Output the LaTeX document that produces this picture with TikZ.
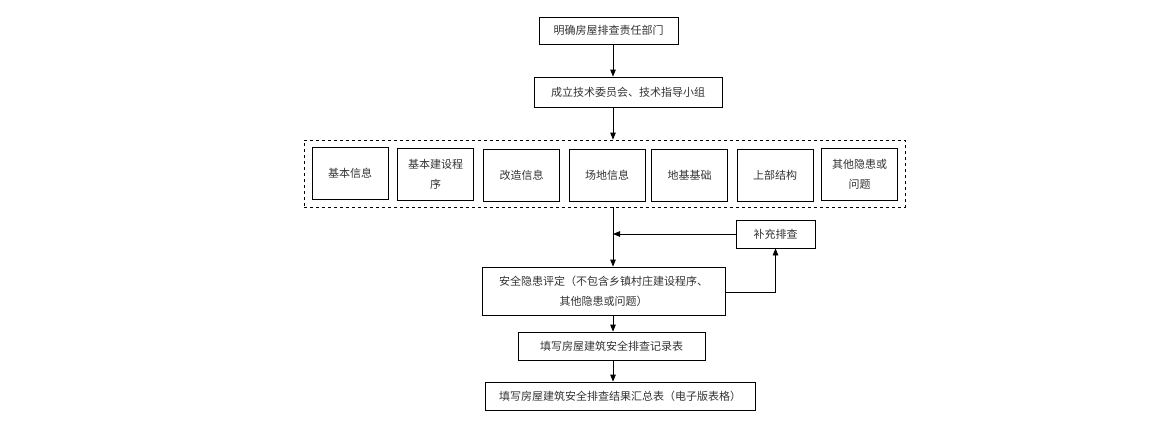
\documentclass[tikz,border=0pt]{standalone}
\usepackage{fontspec}
\setmainfont{Noto Sans CJK SC}
\usetikzlibrary{arrows.meta}
\usetikzlibrary{positioning}
\definecolor{textgray}{RGB}{51,51,51}
\begin{document}
\begin{tikzpicture}[x=1pt,y=-1pt]
  \tikzset{
    box/.style={draw,line width=0.8pt,inner sep=0pt,text=textgray,
      font=\fontsize{11}{20}\selectfont,align=center},
    item/.style={box,minimum width=76pt,minimum height=52pt},
    flow/.style={line width=0.8pt,-{Triangle[length=7pt,width=5.5pt]}},
  }
  \useasboundingbox (0,0) rectangle (1169,428);
  %SPINE
  \coordinate (spine) at (613,0);
  %TOP BOXES
  \node[box,minimum width=139pt,minimum height=27pt] (dept) at (608.5,30.5) {明确房屋排查责任部门};
  \node[box,minimum width=188pt,minimum height=30pt] (team) at (628,92) {成立技术委员会、技术指导小组};
  %DASHED GROUP
  \node[draw,dashed,line width=0.8pt,minimum width=601pt,minimum height=67pt,inner sep=0pt] (items) at (604.5,173.5) {};
  %ITEMS
  \node[item] (basic) at (350,173) {基本信息};
  \node[item] (proc) at (435.5,174.5) {基本建设程\\序};
  \node[item] (reno) at (521.5,175.5) {改造信息};
  \node[item] (site) at (607,175) {场地信息};
  \node[item] (found) at (689.5,175.5) {地基基础};
  \node[item] (upper) at (775,175.5) {上部结构};
  \node[item] (other) at (859.5,174.5) {其他隐患或\\问题};
  %ASSESSMENT
  \node[box,minimum width=243pt,minimum height=48pt] (assess) at (603.5,291) {安全隐患评定（不包含乡镇村庄建设程序、\\其他隐患或问题）};
  \node[box,minimum width=79pt,minimum height=28pt] (extra) at (775.5,234) {补充排查};
  %RECORDS
  \node[box,minimum width=187pt,minimum height=28pt] (record) at (611.5,346) {填写房屋建筑安全排查记录表};
  \node[box,minimum width=270pt,minimum height=28pt] (summary) at (620,396) {填写房屋建筑安全排查结果汇总表（电子版表格）};
  %ARROWS
  \draw[flow] (dept.south -| spine) -- (team.north -| spine);
  \draw[flow] (team.south -| spine) -- (items.north -| spine);
  \draw[flow] (items.south -| spine) -- (assess.north -| spine);
  \draw[flow] (extra.west) -- (extra.west -| spine);
  \draw[flow] ([yshift=-1pt]assess.east) -| (extra.south);
  \draw[flow] (assess.south -| spine) -- (record.north -| spine);
  \draw[flow] (record.south -| spine) -- (summary.north -| spine);
\end{tikzpicture}
\end{document}
